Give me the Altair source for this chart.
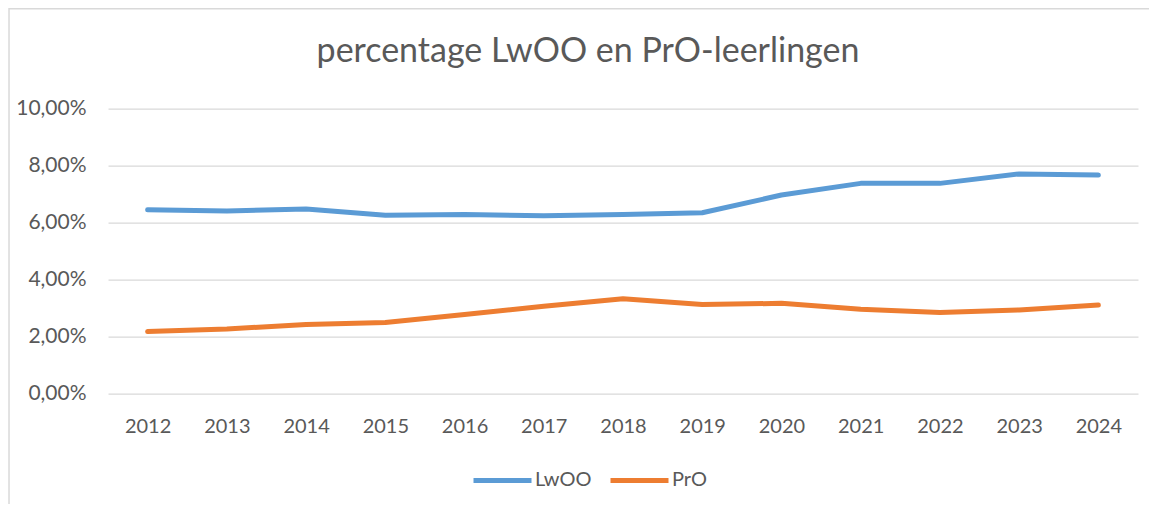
import altair as alt
import pandas as pd

years = ["2012", "2013", "2014", "2015", "2016", "2017", "2018",
         "2019", "2020", "2021", "2022", "2023", "2024"]
lwoo = [0.0645, 0.0641, 0.0648, 0.0626, 0.0629, 0.0624, 0.0629,
        0.0635, 0.0697, 0.0738, 0.0738, 0.0771, 0.0767]
pro = [0.0218, 0.0227, 0.0243, 0.0250, 0.0278, 0.0307, 0.0333,
       0.0313, 0.0317, 0.0296, 0.0285, 0.0294, 0.0311]
series = ["LwOO", "PrO"]
colors = ["#5B9BD5", "#ED7D31"]
y_ticks = [0.0, 0.02, 0.04, 0.06, 0.08, 0.10]
title_text = "percentage LwOO en PrO-leerlingen"

rows = []
for name, vals in zip(series, [lwoo, pro]):
    for yr, v in zip(years, vals):
        rows.append({"jaar": yr, "reeks": name, "waarde": v})
df = pd.DataFrame(rows)

FONT = "Lato"
TXT = "#595959"
GRID = "#D9D9D9"

W, H = 1030, 285

border = alt.Chart(alt.Data(values=[{"k": 1}])).mark_rect(
    filled=False, stroke=GRID, strokeWidth=1.5
).encode(
    x=alt.value(-99), x2=alt.value(1200),
    y=alt.value(-99.9), y2=alt.value(600)
)

lines = alt.Chart(df).mark_line(
    strokeWidth=5, strokeCap="round", strokeJoin="round"
).encode(
    x=alt.X("jaar:O", sort=years,
            scale=alt.Scale(padding=0.5),
            axis=alt.Axis(title=None, labelAngle=0, domain=False, ticks=False,
                          grid=False, labelFontSize=20, labelFont=FONT,
                          labelColor=TXT, labelPadding=23)),
    y=alt.Y("waarde:Q",
            scale=alt.Scale(domain=[0, 0.10], nice=False, zero=True),
            axis=alt.Axis(title=None, values=y_ticks, domain=False, ticks=False,
                          grid=True, gridColor=GRID, gridWidth=1.3,
                          labelFontSize=21, labelFont=FONT, labelColor=TXT,
                          labelPadding=22,
                          labelExpr="replace(format(datum.value, '.2%'), '.', ',')")),
    color=alt.Color("reeks:N",
                    scale=alt.Scale(domain=series, range=colors),
                    legend=alt.Legend(orient="none", legendX=363, legendY=340,
                                      direction="horizontal", title=None,
                                      symbolType="stroke", symbolSize=3364,
                                      symbolStrokeWidth=5, labelFontSize=20,
                                      labelFont=FONT, labelColor=TXT,
                                      columnPadding=8, labelOffset=1)),
)

chart = alt.layer(border, lines).properties(
    width=W, height=H,
    autosize=alt.AutoSizeParams(type="none"),
    padding={"left": 100, "top": 100.7, "right": 11, "bottom": 110},
    title=alt.TitleParams(text=title_text, font=FONT, fontSize=34,
                          fontWeight="normal", color=TXT, anchor="middle",
                          frame="group", dx=-35, offset=-88,
                          baseline="alphabetic"),
).configure_view(stroke=None)

chart.save("out.html", embed_options={"renderer": "svg", "actions": False})
